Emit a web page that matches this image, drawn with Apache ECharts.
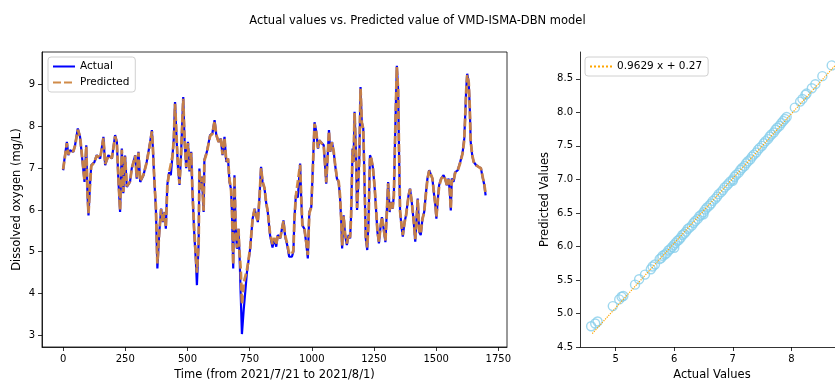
<!DOCTYPE html>
<html>
<head>
<meta charset="utf-8">
<script src="https://cdn.jsdelivr.net/npm/echarts@6/dist/echarts.min.js"></script>
<style>
  html, body { margin: 0; padding: 0; background: #fff; }
  #main { width: 835px; height: 381px; }
</style>
</head>
<body>
<div id="main"></div>
<script>
// time series (index from 2021/7/21)
const timeIdx = [0,5,15,21,27,41,48,59,68,78,86,93,98,102,108,113,126,135,149,162,169,182,196,209,216,222,229,236,242,249,256,269,276,290,296,303,310,323,336,350,357,361,367,373,379,386,394,401,408,413,419,426,433,440,445,450,457,462,468,474,483,488,495,502,508,515,520,527,534,538,545,548,553,558,565,568,578,591,600,609,616,625,634,641,649,656,663,669,675,679,684,689,694,699,705,709,714,719,726,739,752,762,770,776,783,790,796,802,810,816,823,832,842,849,857,863,873,880,886,893,901,909,920,926,930,936,944,953,957,962,970,977,984,990,998,1003,1011,1018,1025,1030,1038,1048,1054,1058,1064,1069,1074,1081,1088,1094,1101,1108,1113,1118,1122,1128,1134,1141,1148,1154,1158,1164,1168,1172,1178,1182,1186,1191,1196,1201,1207,1212,1217,1223,1228,1234,1239,1246,1253,1259,1264,1270,1277,1282,1289,1296,1301,1307,1313,1318,1325,1330,1334,1338,1342,1347,1351,1355,1362,1366,1373,1379,1389,1395,1402,1410,1416,1422,1426,1432,1438,1445,1452,1458,1465,1472,1480,1485,1492,1497,1501,1507,1512,1520,1530,1536,1543,1550,1555,1559,1563,1570,1576,1587,1597,1606,1613,1617,1621,1625,1631,1635,1639,1645,1651,1661,1671,1680,1688,1694,1699];
const actualDO = [6.95,7.2,7.63,7.31,7.43,7.39,7.55,7.95,7.75,7.15,6.67,7.55,6.35,5.87,6.6,7.07,7.15,7.31,7.23,7.75,7.07,7.31,7.23,7.79,7.63,6.75,5.95,7.47,6.4,7.3,6.55,6.67,7.0,7.31,6.75,7.39,6.67,6.83,7.15,7.63,7.91,7.47,6.67,6.03,4.6,5.4,6.03,5.71,5.95,5.55,6.6,6.9,6.83,7.31,7.71,8.58,7.6,7.0,6.6,7.3,8.7,7.7,7.0,7.63,6.92,7.39,6.43,5.47,4.76,4.2,5.23,6.99,6.5,6.8,5.95,7.2,7.39,7.79,7.83,8.15,7.79,7.63,7.71,7.31,7.75,7.15,7.23,6.67,6.51,5.95,4.6,6.83,5.55,5.07,5.55,5.0,4.0,3.03,3.6,4.5,5.07,5.79,6.03,5.87,5.71,6.35,7.03,6.67,6.51,6.19,5.95,5.4,5.1,5.32,5.12,5.4,5.32,5.55,5.75,5.36,5.16,4.88,4.88,5.0,5.79,6.35,6.3,7.11,6.35,5.63,5.55,5.23,4.84,5.95,6.07,6.83,8.1,7.87,7.47,7.67,7.63,7.55,7.0,6.63,7.31,7.91,7.39,7.63,7.39,7.07,6.75,6.67,6.35,5.79,5.08,5.87,5.4,5.16,5.4,5.32,5.87,7.47,7.15,8.35,7.31,6.0,6.51,7.23,8.94,8.1,7.95,6.67,5.32,5.04,5.71,7.31,7.23,7.0,6.51,5.95,5.47,5.2,5.63,5.83,5.55,5.23,5.87,6.67,5.95,6.19,6.03,6.35,7.47,8.5,9.45,8.9,7.31,5.95,5.55,5.36,5.71,5.87,6.35,6.51,6.19,5.71,5.24,5.87,6.27,5.47,5.4,5.79,5.95,6.35,6.75,6.95,6.95,6.75,6.35,6.11,5.79,6.27,6.59,6.75,6.83,6.75,6.59,6.75,6.43,5.99,6.75,6.67,6.9,6.95,7.15,7.35,7.7,8.27,8.9,9.26,9.06,8.5,7.63,7.31,7.15,7.07,7.03,7.0,6.75,6.59,6.35];
const predictedDO = [6.97,7.18,7.6,7.33,7.42,7.4,7.54,7.92,7.76,7.17,6.7,7.52,6.4,5.92,6.58,7.05,7.15,7.3,7.24,7.72,7.1,7.3,7.24,7.76,7.62,6.78,6.0,7.44,6.43,7.28,6.57,6.68,6.99,7.3,6.78,7.37,6.69,6.84,7.14,7.6,7.88,7.48,6.7,6.07,4.72,5.42,6.02,5.73,5.94,5.58,6.57,6.88,6.84,7.29,7.68,8.54,7.62,7.03,6.63,7.28,8.66,7.72,7.03,7.6,6.95,7.37,6.46,5.52,4.85,4.5,5.25,6.95,6.52,6.78,5.98,7.18,7.38,7.77,7.82,8.12,7.8,7.63,7.7,7.33,7.72,7.17,7.23,6.7,6.53,6.0,4.7,6.8,5.58,5.1,5.55,5.0,4.6,3.75,4.25,4.55,5.08,5.78,6.02,5.88,5.72,6.33,7.0,6.68,6.52,6.2,5.96,5.43,5.18,5.33,5.17,5.4,5.33,5.54,5.73,5.38,5.2,4.95,4.95,5.03,5.77,6.33,6.3,7.08,6.37,5.65,5.56,5.26,4.92,5.92,6.07,6.8,8.06,7.86,7.48,7.66,7.62,7.54,7.02,6.66,7.3,7.88,7.4,7.62,7.4,7.08,6.77,6.68,6.37,5.82,5.15,5.85,5.42,5.2,5.4,5.34,5.85,7.44,7.16,8.32,7.33,6.05,6.5,7.2,8.9,8.1,7.93,6.7,5.36,5.1,5.7,7.28,7.23,7.01,6.53,5.97,5.5,5.24,5.62,5.82,5.56,5.27,5.85,6.64,5.97,6.18,6.04,6.34,7.44,8.47,9.42,8.88,7.33,5.98,5.57,5.4,5.7,5.87,6.33,6.5,6.2,5.73,5.3,5.85,6.25,5.5,5.43,5.78,5.95,6.33,6.73,6.94,6.94,6.76,6.37,6.13,5.83,6.25,6.57,6.74,6.82,6.75,6.6,6.73,6.45,6.03,6.72,6.67,6.88,6.95,7.13,7.34,7.67,8.24,8.86,9.23,9.05,8.5,7.65,7.32,7.15,7.07,7.03,7.0,6.77,6.6,6.38];
const timeTicks = [0, 250, 500, 750, 1000, 1250, 1500, 1750];
const doTicks = [3, 4, 5, 6, 7, 8, 9];

// regression panel
const scatterActual = [4.58,4.65,4.69,4.95,5.06,5.10,5.13,5.33,5.40,5.50,5.60,5.63,5.67,5.75,5.78,5.80,5.84,5.87,5.90,5.93,5.96,5.99,6.00,6.02,6.05,6.08,6.11,6.14,6.17,6.20,6.23,6.26,6.30,6.33,6.36,6.40,6.43,6.46,6.50,6.50,6.53,6.56,6.60,6.63,6.66,6.70,6.73,6.76,6.80,6.83,6.86,6.90,6.93,6.96,7.00,7.00,7.03,7.06,7.10,7.13,7.16,7.20,7.23,7.26,7.30,7.33,7.36,7.40,7.43,7.46,7.50,7.53,7.56,7.60,7.63,7.66,7.70,7.73,7.76,7.80,7.83,7.86,7.89,7.92,8.06,8.15,8.19,8.24,8.26,8.35,8.41,8.53,8.69];
const scatterPredicted = [4.81,4.85,4.88,5.11,5.21,5.25,5.26,5.43,5.51,5.58,5.66,5.70,5.73,5.81,5.83,5.86,5.88,5.90,5.94,5.96,5.99,6.02,5.98,6.05,6.08,6.10,6.13,6.17,6.19,6.22,6.26,6.28,6.31,6.35,6.38,6.41,6.45,6.47,6.51,6.48,6.55,6.58,6.61,6.64,6.68,6.71,6.74,6.78,6.81,6.84,6.88,6.91,6.94,6.97,7.00,6.98,7.04,7.07,7.10,7.14,7.17,7.20,7.24,7.27,7.30,7.34,7.37,7.40,7.44,7.47,7.50,7.54,7.57,7.60,7.64,7.67,7.70,7.74,7.77,7.80,7.84,7.87,7.90,7.93,8.07,8.16,8.20,8.26,8.28,8.36,8.42,8.54,8.70];
const fitLineX = [4.6, 8.75];
const fitLineY = [4.70, 8.70];
const actualTicks = [5, 6, 7, 8];
const predictedTicks = [4.5, 5.0, 5.5, 6.0, 6.5, 7.0, 7.5, 8.0, 8.5];

const FONT = "DejaVu Sans";

function axis(gridIndex, min, max, ticks, name, gap, margin, fmt) {
  return {
    type: "value",
    gridIndex: gridIndex,
    min: min,
    max: max,
    name: name,
    nameLocation: "middle",
    nameGap: gap,
    nameTextStyle: { fontFamily: FONT, fontSize: 11.5, color: "#000" },
    splitLine: { show: false },
    axisLine: { show: true, onZero: false, lineStyle: { color: "#000", width: 0.8 } },
    axisTick: { show: true, length: 4, customValues: ticks, lineStyle: { color: "#000", width: 0.8 } },
    axisLabel: {
      fontFamily: FONT, fontSize: 10, color: "#000", margin: margin,
      customValues: ticks,
      formatter: fmt || (v => String(v)),
    },
  };
}

const seriesPairs = timeIdx.map((t, i) => [t, actualDO[i]]);
const predPairs = timeIdx.map((t, i) => [t, predictedDO[i]]);
const scatterPairs = scatterActual.map((x, i) => [x, scatterPredicted[i]]);
const fitPairs = fitLineX.map((x, i) => [x, fitLineY[i]]);

const legendBase = {
  itemWidth: 22, itemHeight: 10,
  backgroundColor: "#fff",
  borderColor: "#d0d0d0", borderWidth: 1, borderRadius: 3,
  itemStyle: { opacity: 0 },
  textStyle: { fontFamily: FONT, fontSize: 10.5, color: "#000" },
};

// left y title sits closer to its tick labels than echarts would put it
const leftY = axis(0, 2.72, 9.78, doTicks, "Dissolved oxygen (mg/L)", 19, 7);
leftY.nameMoveOverlap = false;

var myChart = echarts.init(document.getElementById("main"));
myChart.setOption({
  animation: false,
  backgroundColor: "#fff",
  title: {
    text: "Actual values vs. Predicted value of VMD-ISMA-DBN model",
    left: "center",
    top: 10,
    textStyle: { fontFamily: FONT, fontSize: 11.5, fontWeight: "normal", color: "#000" },
  },
  grid: [
    { left: 42, top: 52, width: 465, height: 295, show: true, borderColor: "#000", borderWidth: 0.8, outerBoundsMode: "none" },
    { left: 580, top: 52, width: 264, height: 295, outerBoundsMode: "none" },
  ],
  legend: [
    Object.assign({}, legendBase, {
      data: ["Actual", "Predicted"],
      orient: "vertical",
      left: 48, top: 57, itemGap: 5,
      padding: [4, 6, 4, 4],
    }),
    Object.assign({}, legendBase, {
      data: ["0.9629 x + 0.27"],
      left: 585, top: 57,
      padding: [4, 6, 4, 4],
    }),
  ],
  xAxis: [
    axis(0, -85, 1785, timeTicks, "Time (from 2021/7/21 to 2021/8/1)", 20, 7),
    axis(1, 4.39, 8.9, actualTicks, "Actual Values", 20, 7),
  ],
  yAxis: [
    leftY,
    axis(1, 4.5, 8.9, predictedTicks, "Predicted Values", 29, 7, v => v.toFixed(1)),
  ],
  series: [
    {
      name: "Actual", type: "line", xAxisIndex: 0, yAxisIndex: 0,
      data: seriesPairs, symbol: "none",
      lineStyle: { color: "#0000ff", width: 2.2 },
      itemStyle: { color: "#0000ff" },
      z: 2,
    },
    {
      name: "Predicted", type: "line", xAxisIndex: 0, yAxisIndex: 0,
      data: predPairs, symbol: "none",
      lineStyle: { color: "#cd853f", width: 2.8, type: [8, 3], opacity: 0.95 },
      itemStyle: { color: "#cd853f" },
      z: 3,
    },
    {
      name: "points", type: "scatter", xAxisIndex: 1, yAxisIndex: 1,
      data: scatterPairs, symbol: "circle", symbolSize: 9,
      itemStyle: { color: "rgba(0,0,0,0)", borderColor: "#87ceeb", borderWidth: 1.4 },
      z: 2,
    },
    {
      name: "0.9629 x + 0.27", type: "line", xAxisIndex: 1, yAxisIndex: 1,
      data: fitPairs, symbol: "none",
      lineStyle: { color: "#ffa500", width: 1.2, type: "dotted" },
      itemStyle: { color: "#ffa500" },
      z: 3,
    },
  ],
});
</script>
</body>
</html>
